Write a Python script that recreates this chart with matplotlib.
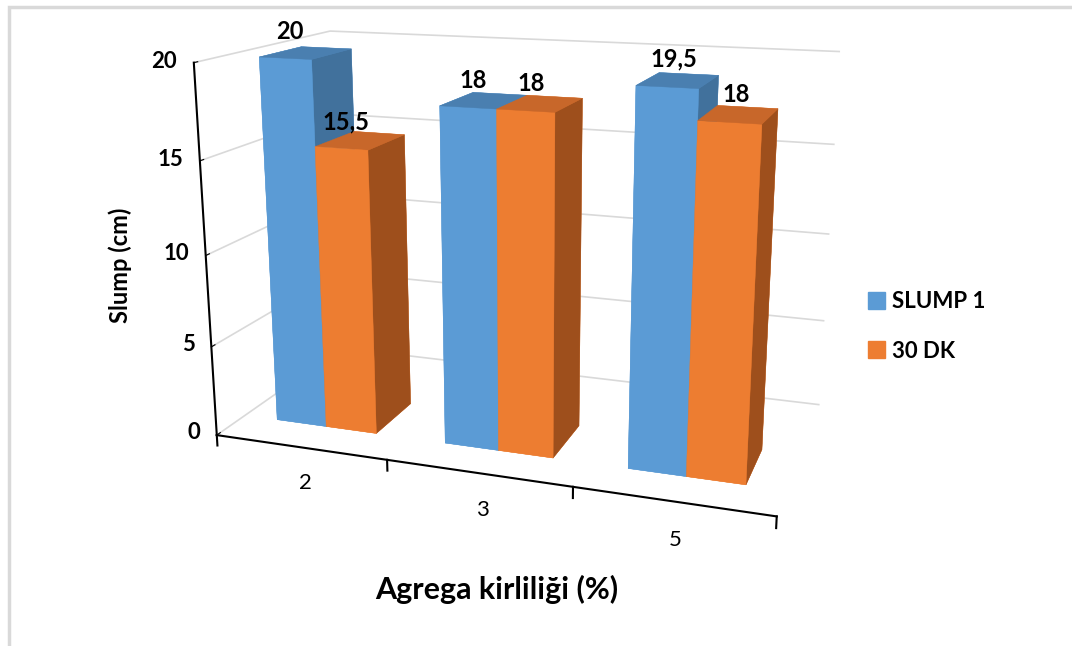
import numpy as np
import matplotlib.pyplot as plt
from matplotlib.patches import Rectangle, Patch

plt.rcParams['font.family'] = ['Lato', 'DejaVu Sans']

categories = ['2', '3', '5']
slump_1 = [20, 18, 19.5]
dk_30 = [15.5, 18, 18]
series_names = ['SLUMP 1', '30 DK']
value_ticks = [0, 5, 10, 15, 20]

# front / top / right-side shades for each series
blue = ['#5b9bd5', '#4a7fb0', '#41719c']
orange = ['#ed7d31', '#c8672a', '#9e4f1c']

fig = plt.figure(figsize=(10.72, 6.46), dpi=100)
fig.add_artist(Rectangle((0.0084, -0.1), 1.2, 1.089, transform=fig.transFigure,
                         fill=False, edgecolor='#d9d9d9', linewidth=2.5))

ax = fig.add_axes([0.053, 0.108, 0.86, 1.0], projection='3d')

n = len(categories)
pos = np.arange(n)
bar_w = 0.3
floor_depth = 1.8
depth = 0.55 / floor_depth
y0 = 0.2

xs = np.concatenate([pos - bar_w, pos])
heights = np.concatenate([slump_1, dk_30])
face_colors = []
for shades in [blue] * n + [orange] * n:
    front, top, side = shades
    # bar3d face order: -z, +z, -y, +y, -x, +x
    face_colors += [front, top, front, front, front, side]

ax.bar3d(xs, np.full(2 * n, y0), np.zeros(2 * n), bar_w, depth, heights,
         color=face_colors, edgecolor=face_colors, linewidth=0.3, shade=False)

# value labels above bars, with a decimal comma
for x, h in zip(xs, heights):
    txt = f'{h:g}'.replace('.', ',')
    ax.text(x + bar_w / 2 + 0.03, y0, h + 0.8, txt, ha='center', va='bottom',
            fontsize=17, fontweight='bold')

# category separators on the floor axis
for b in np.arange(n + 1) - 0.5:
    ax.plot([b, b], [0, 0], [0, -0.6], color='black', linewidth=1.5)

# category names under the floor axis
for p, name in zip(pos, categories):
    ax.text(p + 0.02, 0, -2.0, name, ha='center', va='center', fontsize=16)

# bold value-axis labels at the front-left corner
for v in value_ticks:
    ax.text(-0.6, 0, v, str(v), ha='right', va='center',
            fontsize=16, fontweight='bold')

ax.set_xlim(-0.5, n - 0.5)
ax.set_ylim(0, 1)
ax.set_zlim(0, 20)
ax.set_box_aspect((3.6, floor_depth, 2.4), zoom=1.1)
ax.view_init(elev=15, azim=-71)
ax.set_proj_type('persp', focal_length=0.4)

for axis in (ax.xaxis, ax.yaxis, ax.zaxis):
    axis.set_pane_color((1, 1, 1, 0))
    axis.pane.set_edgecolor('none')
ax.xaxis._axinfo['grid']['color'] = (1, 1, 1, 0)
ax.yaxis._axinfo['grid']['color'] = (1, 1, 1, 0)
ax.zaxis._axinfo['grid']['color'] = '#d9d9d9'
ax.zaxis._axinfo['grid']['linewidth'] = 1.2
ax.yaxis.line.set_color((1, 1, 1, 0))
ax.xaxis.line.set_color('black')
ax.xaxis.line.set_linewidth(1.5)
ax.zaxis.line.set_color('black')
ax.zaxis.line.set_linewidth(1.5)
ax.zaxis.set_ticks_position('lower')

ax.set_yticks([])
ax.set_xticks(pos)
ax.set_zticks(value_ticks)
ax.xaxis.set_tick_params(label1On=False)
ax.zaxis.set_tick_params(label1On=False)
ax.xaxis._axinfo['tick']['inward_factor'] = 0
ax.xaxis._axinfo['tick']['outward_factor'] = 0
ax.zaxis._axinfo['tick']['inward_factor'] = 0
ax.zaxis._axinfo['tick']['outward_factor'] = 0.3

fig.text(0.112, 0.59, 'Slump (cm)', rotation=90, ha='center', va='center',
         fontsize=17, fontweight='bold')
fig.text(0.463, 0.087, 'Agrega kirliliği (%)', ha='center', va='center',
         fontsize=22, fontweight='bold')

handles = [Patch(color=blue[0]), Patch(color=orange[0])]
fig.legend(handles, series_names, loc='center left', bbox_to_anchor=(0.799, 0.495),
           frameon=False, prop={'size': 16, 'weight': 'bold'}, borderpad=0,
           handlelength=0.8, handleheight=0.8, handletextpad=0.3, labelspacing=1.3)

fig.savefig('out.png', dpi=100)
